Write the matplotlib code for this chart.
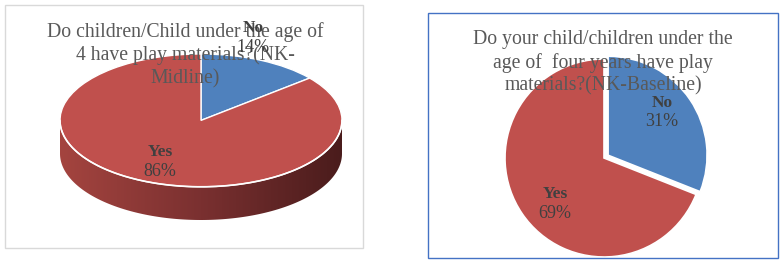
import numpy as np
import matplotlib.pyplot as plt
from matplotlib.patches import Rectangle, Polygon
from matplotlib.colors import LinearSegmentedColormap

# data
labels = ['No', 'Yes']
midline = [14, 86]
baseline = [31, 69]
colors = ['#4F81BD', '#C0504D']

title_mid = 'Do children/Child under the age of\n4 have play materials?(NK-\nMidline)'
title_base = 'Do your child/children under the\nage of  four years have play\nmaterials?(NK-Baseline)'

W, H = 783, 264
fig = plt.figure(figsize=(W / 100, H / 100), dpi=100)


def frac(x0, y0, x1, y1):
    # pixel box (top-left origin) -> figure fraction rect
    return [x0 / W, 1 - y1 / H, (x1 - x0) / W, (y1 - y0) / H]


# panel borders
fig.patches.append(Rectangle((5 / W, 1 - 248 / H), 358 / W, 243 / H, transform=fig.transFigure,
                             fill=False, edgecolor='#D9D9D9', lw=1))
fig.patches.append(Rectangle((428 / W, 1 - 258 / H), 350 / W, 245 / H, transform=fig.transFigure,
                             fill=False, edgecolor='#4472C4', lw=1))

serif = 'Liberation Serif'

# ---- left: 3D pie (midline) ----
depth = 0.5
ax1 = fig.add_axes(frac(60, 54, 342, 220))
th = np.linspace(np.pi, 2 * np.pi, 200)
top_x, top_y = np.cos(th), np.sin(th)
side = np.concatenate([np.column_stack([top_x, top_y]),
                       np.column_stack([top_x[::-1], top_y[::-1] - depth])])
poly = Polygon(side, closed=True, facecolor='none', edgecolor='none')
ax1.add_patch(poly)
cmap = LinearSegmentedColormap.from_list('side', ['#A4443F', '#7A3030', '#4A1C1C'])
grad = np.linspace(0, 1, 256).reshape(1, -1)
im = ax1.imshow(grad, cmap=cmap, extent=(-1, 1, -1 - depth, 0), aspect='auto', zorder=0)
im.set_clip_path(poly)

ax1.pie(midline, colors=colors, startangle=90, counterclock=False,
        wedgeprops=dict(edgecolor='white', linewidth=1))
ax1.plot(top_x, top_y, color='white', lw=1.2, zorder=5)
ax1.set_aspect('auto')
ax1.set_xlim(-1, 1)
ax1.set_ylim(-1 - depth, 1)
ax1.axis('off')

fig.text(185 / W, 1 - 22 / H, title_mid, ha='center', va='top', fontsize=14.2,
         family=serif, color='#595959', linespacing=1.25)

# ---- right: 2D pie (baseline) ----
ax2 = fig.add_axes(frac(505, 59, 703, 257))
ax2.pie(baseline, colors=colors, startangle=90, counterclock=False, explode=[0.05, 0],
        wedgeprops=dict(edgecolor='white', linewidth=1.2))
ax2.set_aspect('auto')
ax2.set_xlim(-1, 1)
ax2.set_ylim(-1, 1)
ax2.axis('off')

fig.text(603 / W, 1 - 30 / H, title_base, ha='center', va='top', fontsize=14.2,
         family=serif, color='#595959', linespacing=1.25)

# data labels
def label(x, y, name, val):
    fig.text(x / W, 1 - y / H, name, ha='center', va='center', fontsize=12.5,
             family=serif, weight='bold', color='#404040')
    fig.text(x / W, 1 - (y + 19) / H, f'{val}%', ha='center', va='center', fontsize=13,
             family=serif, color='#404040')

label(253, 28, labels[0], midline[0])
label(160, 152, labels[1], midline[1])
label(662, 103, labels[0], baseline[0])
label(555, 194, labels[1], baseline[1])

fig.savefig('out.png', dpi=100)
